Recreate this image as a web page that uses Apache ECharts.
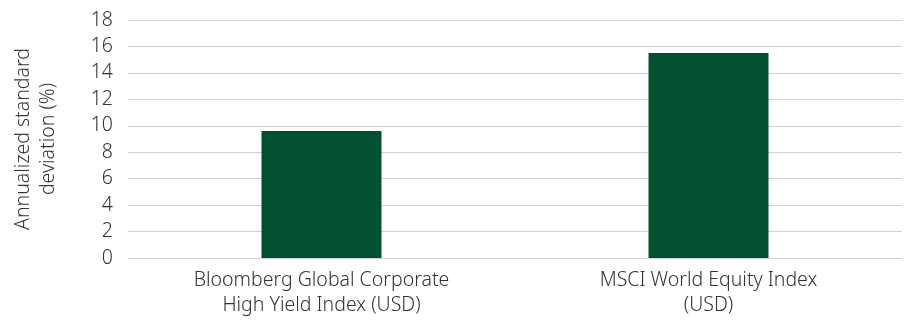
<!DOCTYPE html>
<html><head><meta charset="utf-8">
<script src="https://cdn.jsdelivr.net/npm/echarts@6/dist/echarts.min.js"></script>
<style>html,body{margin:0;padding:0;background:#fff}#c{width:904px;height:322px}</style>
</head><body><div id="c"></div>
<script>
const categories = ["Bloomberg Global Corporate\nHigh Yield Index (USD)", "MSCI World Equity Index\n(USD)"];
const values = [9.6, 15.5];
const yAxisTitle = "Annualized standard\ndeviation (%)";

const chart = echarts.init(document.getElementById('c'));
const font = "'Noto Sans', sans-serif";
chart.setOption({
  animation: false,
  grid: {left: 128, right: 2, top: 20, bottom: 64, containLabel: false, outerBoundsMode: 'none'},
  graphic: [{
    type: 'text', x: 36, y: 139, rotation: Math.PI / 2,
    style: {text: yAxisTitle, fill: '#333', font: "300 19.5px 'Noto Sans', sans-serif",
            lineHeight: 25, align: 'center', verticalAlign: 'middle'}
  }],
  xAxis: {
    type: 'category', data: categories,
    axisLine: {show: true, lineStyle: {color: '#d0d0d0', width: 1}},
    axisTick: {show: false},
    axisLabel: {color: '#333', fontFamily: font, fontSize: 19.5, fontWeight: 300, lineHeight: 25, margin: 10, interval: 0}
  },
  yAxis: {
    type: 'value', min: 0, max: 18, interval: 2,
    axisLine: {show: false}, axisTick: {show: false},
    axisLabel: {color: '#333', fontFamily: font, fontSize: 19.5, fontWeight: 300, margin: 15},
    splitLine: {lineStyle: {color: '#d0d0d0', width: 1}}
  },
  series: [{
    type: 'bar', data: values, barWidth: '31%',
    itemStyle: {color: '#01502f'}
  }]
});
</script></body></html>
